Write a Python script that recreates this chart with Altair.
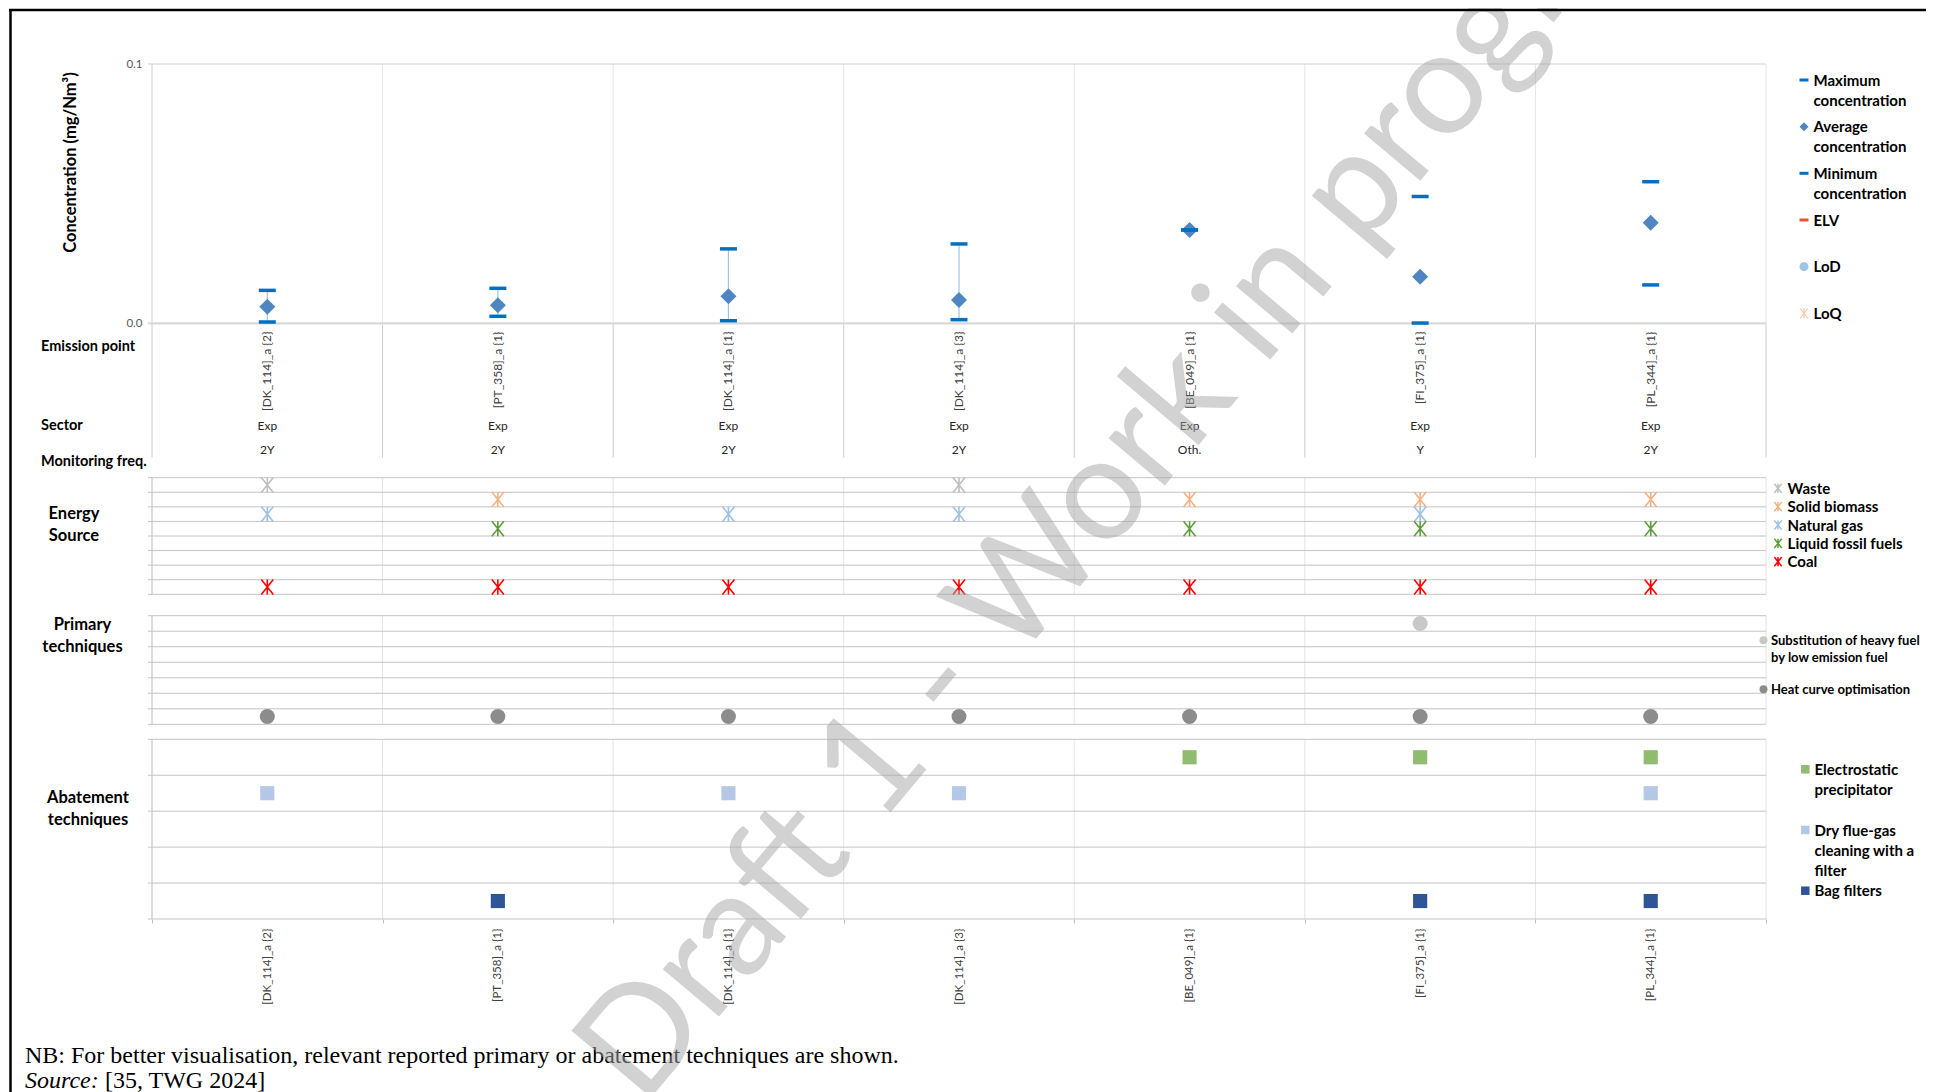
import altair as alt
import pandas as pd

# ------------------------------------------------------------------ data
emission_points = ["[DK_114]_a {2}", "[PT_358]_a {1}", "[DK_114]_a {1}", "[DK_114]_a {3}",
                   "[BE_049]_a {1}", "[FI_375]_a {1}", "[PL_344]_a {1}"]
sectors = ["Exp", "Exp", "Exp", "Exp", "Exp", "Exp", "Exp"]
monitoring_freq = ["2Y", "2Y", "2Y", "2Y", "Oth.", "Y", "2Y"]

max_conc = [0.0127, 0.0135, 0.0287, 0.0306, 0.0360, 0.0489, 0.0546]
avg_conc = [0.0064, 0.0070, 0.0104, 0.0090, 0.0360, 0.0180, 0.0388]
min_conc = [0.0005, 0.0027, 0.0010, 0.0014, 0.0360, 0.0001, 0.0148]
whisker_points = ["[DK_114]_a {2}", "[PT_358]_a {1}", "[DK_114]_a {1}", "[DK_114]_a {3}"]
conc_ticks = [0.0, 0.1]
conc_legend = ["Maximum\nconcentration", "Average\nconcentration", "Minimum\nconcentration",
               "ELV", "LoD", "LoQ"]

energy_sources = ["Waste", "Solid biomass", "Natural gas", "Liquid fossil fuels", "Coal"]
energy_rows = [7.5, 6.5, 5.5, 4.5, 0.5]
energy_grid = [0, 1, 2, 3, 4, 5, 6, 7, 8]
energy_used = [
    ["Waste", "Natural gas", "Coal"],
    ["Solid biomass", "Liquid fossil fuels", "Coal"],
    ["Natural gas", "Coal"],
    ["Waste", "Natural gas", "Coal"],
    ["Solid biomass", "Liquid fossil fuels", "Coal"],
    ["Solid biomass", "Natural gas", "Liquid fossil fuels", "Coal"],
    ["Solid biomass", "Liquid fossil fuels", "Coal"],
]

primary_techniques = ["Substitution of heavy fuel by low emission fuel", "Heat curve optimisation"]
primary_legend = ["Substitution of heavy fuel\nby low emission fuel", "Heat curve optimisation"]
primary_rows = [6.5, 0.5]
primary_grid = [0, 1, 2, 3, 4, 5, 6, 7]
primary_used = [
    ["Heat curve optimisation"],
    ["Heat curve optimisation"],
    ["Heat curve optimisation"],
    ["Heat curve optimisation"],
    ["Heat curve optimisation"],
    ["Substitution of heavy fuel by low emission fuel", "Heat curve optimisation"],
    ["Heat curve optimisation"],
]

abatement_techniques = ["Electrostatic precipitator", "Dry flue-gas cleaning with a filter", "Bag filters"]
abatement_legend = ["Electrostatic\nprecipitator", "Dry flue-gas\ncleaning with a\nfilter", "Bag filters"]
abatement_rows = [4.5, 3.5, 0.5]
abatement_grid = [0, 1, 2, 3, 4, 5]
abatement_used = [
    ["Dry flue-gas cleaning with a filter"],
    ["Bag filters"],
    ["Dry flue-gas cleaning with a filter"],
    ["Dry flue-gas cleaning with a filter"],
    ["Electrostatic precipitator"],
    ["Electrostatic precipitator", "Bag filters"],
    ["Electrostatic precipitator", "Dry flue-gas cleaning with a filter", "Bag filters"],
]

note_text = "NB: For better visualisation, relevant reported primary or abatement techniques are shown."
source_label = "Source:"
source_text = "[35, TWG 2024]"
watermark_text = "Draft 1 - Work in progress"

# ------------------------------------------------------------------ styles / layout
W, H = 1614, 855
PAD_R = 160
PAD_B = 173
FONT = "Lato"
CONC = (0.0, 259.3)
LAB_BOTTOM = 393.6
ENERGY = (413.7, 530.3)
PRIMARY = (551.7, 660.3)
ABATE = (675.3, 855.0)

energy_colors = ["#bfbfbf", "#f4b183", "#9dc3e6", "#5e9e3a", "#ff0000"]
primary_colors = ["#c8c8c8", "#8c8c8c"]
abatement_colors = ["#8fbc6f", "#b4c7e7", "#2f5597"]
ASTER = "M-0.8,-1L0.8,1M-0.8,1L0.8,-1M0,-1L0,1"
DASH = "M-1,-0.33L1,-0.33L1,0.33L-1,0.33Z"

x_scale = alt.Scale(domain=emission_points, paddingInner=0, paddingOuter=0)
x_axis = alt.Axis(orient="bottom", labelAngle=270, labelAlign="right", labelBaseline="middle",
                  labelFont=FONT, labelFontSize=11.5, labelColor="#404040", labelPadding=5,
                  tickBand="extent", tickSize=4, tickColor="#bfbfbf", domain=False, grid=False,
                  labelLimit=0, labelOverlap=False)


def X(band=None):
    if band is None:
        return alt.X("point:N", scale=x_scale, axis=x_axis, title=None)
    return alt.X("point:N", scale=x_scale, axis=x_axis, title=None, bandPosition=band)


def Yq(field, domain, band, axis=None):
    return alt.Y(f"{field}:Q",
                 scale=alt.Scale(domain=domain, range=[band[1], band[0]], nice=False, zero=False),
                 axis=axis)


points_df = pd.DataFrame({"point": emission_points})


def vlines(top, bottom, color, edge_color):
    enc = dict(y=alt.value(top), y2=alt.value(bottom))
    inner = alt.Chart(points_df.iloc[1:]).mark_rule(color=color, strokeWidth=1).encode(x=X(0), **enc)
    left = alt.Chart(points_df.iloc[:1]).mark_rule(color=edge_color, strokeWidth=1).encode(x=X(0), **enc)
    right = alt.Chart(points_df.iloc[-1:]).mark_rule(color=color, strokeWidth=1).encode(x=X(1), **enc)
    return [inner, left, right]


def hlines(levels, domain, band, color, width=1.0):
    return alt.Chart(pd.DataFrame({"v": levels})).mark_rule(color=color, strokeWidth=width).encode(
        y=Yq("v", domain, band), x=alt.value(-4), x2=alt.value(W))


def label(text, x, y, **style):
    base = dict(font=FONT, color="black")
    base.update(style)
    return alt.Chart(pd.DataFrame({"t": [text]})).mark_text(**base).encode(
        x=alt.value(x), y=alt.value(y), text="t:N")


def legend_text(labels, x, y0, y1, size, line_h):
    off = 0.43 * size
    return alt.Chart(pd.DataFrame({"label": labels})).mark_text(
        align="left", baseline="top", lineBreak="\n", lineHeight=line_h, font=FONT,
        fontWeight="bold", fontSize=size, color="black").encode(
        x=alt.value(x),
        y=alt.Y("label:N", scale=alt.Scale(type="point", domain=labels, range=[y0 - off, y1 - off], padding=0),
                axis=None),
        text="label:N")


def legend_symbols(labels, subset, x, y0, y1, shapes, colors, size, filled=True, sw=1.0):
    return alt.Chart(pd.DataFrame({"label": subset})).mark_point(
        filled=filled, size=size, opacity=1, strokeWidth=sw).encode(
        x=alt.value(x),
        y=alt.Y("label:N", scale=alt.Scale(type="point", domain=labels, range=[y0, y1], padding=0), axis=None),
        shape=alt.Shape("label:N", scale=alt.Scale(domain=subset, range=shapes), legend=None),
        color=alt.Color("label:N", scale=alt.Scale(domain=subset, range=colors), legend=None))


# ------------------------------------------------------------------ tables
conc_df = pd.DataFrame({"point": emission_points, "max": max_conc, "avg": avg_conc,
                        "min": min_conc, "sector": sectors, "freq": monitoring_freq})
whisker_df = conc_df[conc_df["point"].isin(whisker_points)]

energy_df = pd.DataFrame([{"point": p, "source": s, "row": energy_rows[energy_sources.index(s)]}
                          for p, used in zip(emission_points, energy_used) for s in used])
primary_df = pd.DataFrame([{"point": p, "tech": t, "row": primary_rows[primary_techniques.index(t)]}
                           for p, used in zip(emission_points, primary_used) for t in used])
abatement_df = pd.DataFrame([{"point": p, "tech": t, "row": abatement_rows[abatement_techniques.index(t)]}
                             for p, used in zip(emission_points, abatement_used) for t in used])

y_axis = alt.Axis(values=conc_ticks, format=".1f", labelFont=FONT, labelFontSize=11.5,
                  labelColor="#595959", labelPadding=10, ticks=False, domain=False, grid=False,
                  title="Concentration (mg/Nm³)", titleFont=FONT, titleFontSize=16.5,
                  titleFontWeight="bold", titleColor="black", titleX=-82, titleY=98,
                  titleAngle=270, titleAlign="center", titleBaseline="middle")

layers = []
# grid / frame lines
layers += vlines(CONC[0], CONC[1], "#e6e6e6", "#d0d0d0")
layers += vlines(CONC[1], LAB_BOTTOM, "#cccccc", "#cccccc")
layers.append(hlines([0.1], [0, 0.1], CONC, "#cfcfcf", 1.2))
layers.append(hlines([0.0], [0, 0.1], CONC, "#d9d9d9", 2.2))
layers += vlines(ENERGY[0], ENERGY[1], "#e4e4e4", "#bcbcbc")
layers.append(hlines(energy_grid, [0, 8], ENERGY, "#c4c4c4"))
layers += vlines(PRIMARY[0], PRIMARY[1], "#e4e4e4", "#bcbcbc")
layers.append(hlines(primary_grid, [0, 7], PRIMARY, "#c4c4c4"))
layers += vlines(ABATE[0], ABATE[1], "#e4e4e4", "#bcbcbc")
layers.append(hlines(abatement_grid, [0, 5], ABATE, "#c4c4c4"))

# concentration panel
layers.append(alt.Chart(whisker_df).mark_rule(color="#9dc3e6", strokeWidth=1.2).encode(
    x=X(), y=Yq("min", [0, 0.1], CONC), y2="max:Q"))
layers.append(alt.Chart(conc_df).mark_point(shape="diamond", filled=True, size=256, color="#4f86c1",
                                            opacity=1).encode(
    x=X(), y=Yq("avg", [0, 0.1], CONC, axis=y_axis)))
layers.append(alt.Chart(conc_df).mark_tick(color="#0070c0", thickness=3.5, size=17, opacity=1).encode(
    x=X(), y=Yq("max", [0, 0.1], CONC)))
layers.append(alt.Chart(conc_df).mark_tick(color="#0070c0", thickness=3.5, size=17, opacity=1).encode(
    x=X(), y=Yq("min", [0, 0.1], CONC)))

# label rows under the concentration panel
layers.append(alt.Chart(conc_df).mark_text(angle=270, align="right", baseline="middle", font=FONT,
                                           fontSize=12, color="#404040").encode(
    x=X(), y=alt.value(267.5), text="point:N"))
layers.append(alt.Chart(conc_df).mark_text(baseline="middle", font=FONT, fontSize=12,
                                           color="#262626").encode(
    x=X(), y=alt.value(362), text="sector:N"))
layers.append(alt.Chart(conc_df).mark_text(baseline="middle", font=FONT, fontSize=12,
                                           color="#262626").encode(
    x=X(), y=alt.value(386), text="freq:N"))

# energy / primary / abatement markers
layers.append(alt.Chart(energy_df).mark_point(shape=ASTER, filled=False, size=225, strokeWidth=1.6,
                                              opacity=1).encode(
    x=X(), y=Yq("row", [0, 8], ENERGY),
    color=alt.Color("source:N", scale=alt.Scale(domain=energy_sources, range=energy_colors), legend=None)))
layers.append(alt.Chart(primary_df).mark_point(shape="circle", filled=True, size=225, opacity=1).encode(
    x=X(), y=Yq("row", [0, 7], PRIMARY),
    color=alt.Color("tech:N", scale=alt.Scale(domain=primary_techniques, range=primary_colors), legend=None)))
layers.append(alt.Chart(abatement_df).mark_point(shape="square", filled=True, size=200, opacity=1).encode(
    x=X(), y=Yq("row", [0, 5], ABATE),
    color=alt.Color("tech:N", scale=alt.Scale(domain=abatement_techniques, range=abatement_colors),
                    legend=None)))

# row captions
layers.append(label("Emission point", -111, 283, align="left", baseline="middle", fontSize=14.5,
                    fontWeight="bold"))
layers.append(label("Sector", -111, 361.5, align="left", baseline="middle", fontSize=14.5, fontWeight="bold"))
layers.append(label("Monitoring freq.", -111, 397.7, align="left", baseline="middle", fontSize=14.5,
                    fontWeight="bold"))
layers.append(label("Energy\nSource", -78, 442, align="center", baseline="top", lineBreak="\n",
                    lineHeight=22, fontSize=16.5, fontWeight="bold"))
layers.append(label("Primary\ntechniques", -69.5, 553, align="center", baseline="top", lineBreak="\n",
                    lineHeight=22, fontSize=16.5, fontWeight="bold"))
layers.append(label("Abatement\ntechniques", -64, 726, align="center", baseline="top", lineBreak="\n",
                    lineHeight=22, fontSize=16.5, fontWeight="bold"))

# legends
layers.append(legend_text(conc_legend, 1661.5, 16, 249.3, 15, 20))
layers.append(legend_symbols(conc_legend, conc_legend[:5], 1652, 16, 249.3,
                             [DASH, "diamond", DASH, DASH, "circle"],
                             ["#0070c0", "#4f86c1", "#0070c0", "#e8542c", "#9dc3e6"], 81))
layers.append(legend_symbols(conc_legend, conc_legend[5:], 1652, 16, 249.3, [ASTER], ["#f8cbad"], 100,
                             filled=False, sw=1.2))
layers.append(legend_text(energy_sources, 1635.6, 424.3, 497.7, 15, 18))
layers.append(legend_symbols(energy_sources, energy_sources, 1626, 424.3, 497.7,
                             [ASTER] * 5, energy_colors, 85, filled=False, sw=1.5))
layers.append(legend_text(primary_legend, 1619, 576.3, 625.3, 13, 17.5))
layers.append(legend_symbols(primary_legend, primary_legend, 1611.5, 576.3, 625.3,
                             ["circle", "circle"], primary_colors, 64))
layers.append(legend_text(abatement_legend, 1662.5, 705.3, 826.7, 15, 20))
layers.append(legend_symbols(abatement_legend, abatement_legend, 1653.3, 705.3, 826.7,
                             ["square"] * 3, abatement_colors, 72))

# notes
layers.append(label(note_text, -127, 999, align="left", baseline="alphabetic", font="Liberation Serif",
                    fontSize=24))
layers.append(label(source_label, -127, 1024, align="left", baseline="alphabetic", font="Liberation Serif",
                    fontSize=24, fontStyle="italic"))
layers.append(label(source_text, -47, 1024, align="left", baseline="alphabetic", font="Liberation Serif",
                    fontSize=24))

# watermark
layers.append(label(watermark_text, 990, 380, align="center", baseline="middle", angle=310,
                    fontSize=145, color="#a6a6a6", opacity=0.5))

# page frame
layers.append(alt.Chart(pd.DataFrame({"t": [0]})).mark_rule(color="black", strokeWidth=2.5).encode(
    x=alt.value(-143), x2=alt.value(W + PAD_R), y=alt.value(-54)))
layers.append(alt.Chart(pd.DataFrame({"t": [0]})).mark_rule(color="black", strokeWidth=2.5).encode(
    x=alt.value(-141.5), y=alt.value(-55), y2=alt.value(H + PAD_B)))

chart = alt.layer(*layers).properties(
    width=W, height=H,
    padding={"left": 144, "top": 56, "right": PAD_R, "bottom": PAD_B},
    autosize=alt.AutoSizeParams(type="none"),
    background="white",
).resolve_scale(y="independent", color="independent", shape="independent").configure_view(stroke=None)

chart.save("out.html", embed_options={"renderer": "svg", "actions": False})
